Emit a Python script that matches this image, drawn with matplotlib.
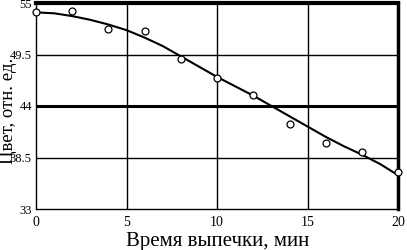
import matplotlib
matplotlib.use("Agg")
import matplotlib.pyplot as plt

# measured points
t_points = [0, 2, 4, 6, 8, 10, 12, 14, 16, 18, 20]
color_points = [54.0, 54.1, 52.2, 52.0, 49.0, 47.0, 45.2, 42.1, 40.0, 39.1, 36.9]

# approximating curve
t_curve = list(range(0, 21))
color_curve = [54.0, 53.9, 53.6, 53.2, 52.7, 52.1, 51.3, 50.4, 49.3, 48.2, 47.1,
               46.1, 45.1, 44.0, 42.9, 41.8, 40.7, 39.7, 38.8, 37.8, 36.6]

x_ticks = [0, 5, 10, 15, 20]
y_ticks = [33, 38.5, 44, 49.5, 55]
y_tick_labels = ["33", "38.5", "44", "49.5", "55"]

plt.rcParams['font.family'] = ['Liberation Serif', 'DejaVu Serif']

fig = plt.figure(figsize=(4.07, 2.5), dpi=100)
ax = fig.add_axes([0.0885, 0.164, 0.89, 0.824])

ax.set_xlim(0, 20)
ax.set_ylim(33, 55)

# grid
for x in [5, 10, 15]:
    ax.axvline(x, color='black', lw=1.0, zorder=1)
for y in [38.5, 49.5]:
    ax.axhline(y, color='black', lw=1.0, zorder=1)
ax.axhline(44, color='black', lw=2.2, zorder=1)

ax.plot(t_curve, color_curve, color='black', lw=1.5, zorder=3)
ax.plot(t_points, color_points, 'o', mfc='white', mec='black', ms=5, mew=0.9,
        zorder=4, clip_on=False)

ax.set_xticks(x_ticks)
ax.set_yticks(y_ticks)
ax.set_yticklabels(y_tick_labels)
ax.tick_params(axis='x', length=0, labelsize=10, pad=5)
ax.tick_params(axis='y', length=0, labelsize=9, pad=3)

ax.spines['top'].set_linewidth(3)
ax.spines['right'].set_linewidth(2.5)
ax.spines['left'].set_linewidth(1)
ax.spines['bottom'].set_linewidth(1)

ax.set_xlabel("Время выпечки, мин", fontsize=15, labelpad=2)
fig.text(9 / 407, 1 - 111 / 250, "Цвет, отн. ед.", fontsize=13.5,
         rotation=90, ha='center', va='center')

fig.savefig("out.png", dpi=100)
